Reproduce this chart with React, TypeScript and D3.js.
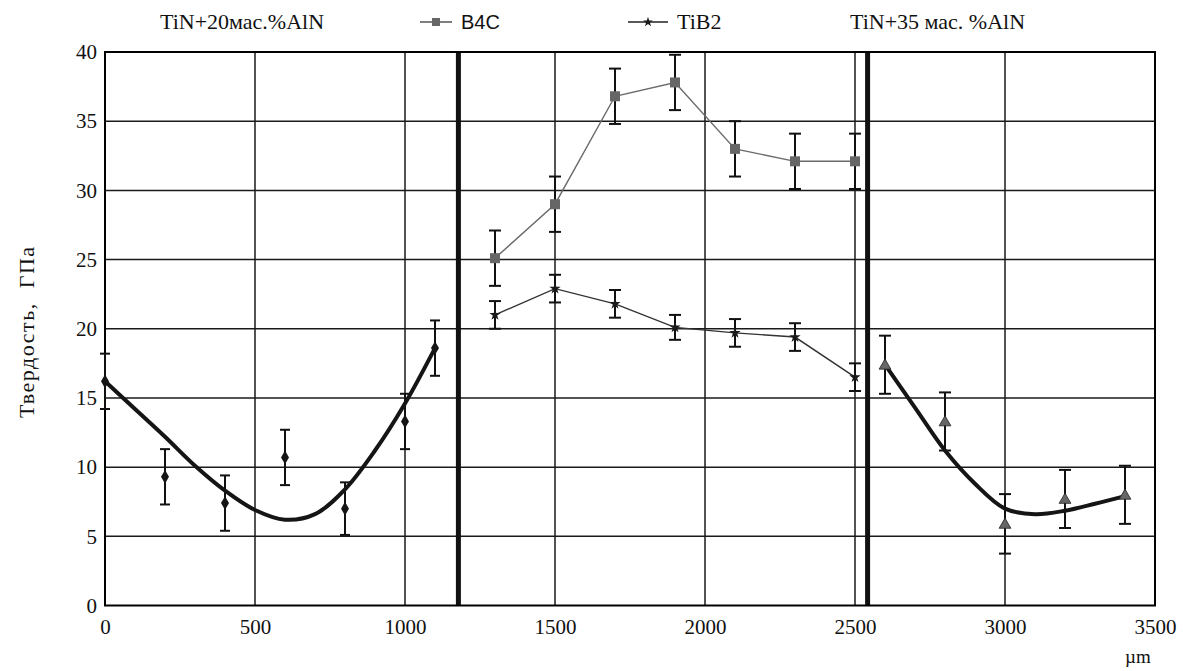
import React, { useEffect, useRef } from "react";
import * as d3 from "d3";

// Dimensions
const W = 1183;
const H = 671;
const plot = { left: 105, right: 1155, top: 52, bottom: 605.5 };

// Axis ticks
const xTicks = [0, 500, 1000, 1500, 2000, 2500, 3000, 3500];
const yTicks = [0, 5, 10, 15, 20, 25, 30, 35, 40];

// Zone borders (thick vertical lines)
const dividers = [1178, 2542];

// TiN+20 mas.% AlN
const leftX = [0, 200, 400, 600, 800, 1000, 1100];
const leftY = [16.2, 9.3, 7.4, 10.7, 7.0, 13.3, 18.6];
const leftErr = [2, 2, 2, 2, 1.9, 2, 2];
const leftFitX = [0, 100, 200, 300, 400, 500, 600, 700, 800, 900, 1000, 1100];
const leftFitY = [16.2, 14.2, 12.2, 10.1, 8.3, 6.9, 6.2, 6.6, 8.4, 11.2, 14.6, 18.6];

// B4C and TiB2
const midX = [1300, 1500, 1700, 1900, 2100, 2300, 2500];
const b4cY = [25.1, 29.0, 36.8, 37.8, 33.0, 32.1, 32.1];
const b4cErr = [2, 2, 2, 2, 2, 2, 2];
const tib2Y = [21.0, 22.9, 21.8, 20.1, 19.7, 19.4, 16.5];
const tib2Err = [1, 1, 1, 0.9, 1, 1, 1];

// TiN+35 mas.% AlN
const rightX = [2600, 2800, 3000, 3200, 3400];
const rightY = [17.4, 13.3, 5.9, 7.7, 8.0];
const rightErr = [2.1, 2.1, 2.15, 2.1, 2.1];
const rightFitX = [2600, 2700, 2800, 2900, 3000, 3100, 3200, 3300, 3400];
const rightFitY = [17.4, 14.3, 11.2, 8.8, 7.0, 6.6, 6.85, 7.35, 7.9];

const serif = "Liberation Serif, Times New Roman, serif";
const sans = "Liberation Sans, Arial, sans-serif";

const App = () => {
  const svgRef = useRef<SVGSVGElement | null>(null);

  useEffect(() => {
    if (!svgRef.current) return;
    const svg = d3.select(svgRef.current);
    svg.selectAll("*").remove();

    const x = d3.scaleLinear().domain([0, 3500]).range([plot.left, plot.right]);
    const y = d3.scaleLinear().domain([0, 40]).range([plot.bottom, plot.top]);

    // Gridlines
    const grid = svg.append("g").attr("stroke", "#1a1a1a").attr("stroke-width", 1.5);
    yTicks.slice(1, -1).forEach((t) => {
      grid.append("line").attr("x1", plot.left).attr("x2", plot.right).attr("y1", y(t)).attr("y2", y(t));
    });
    xTicks.slice(1, -1).forEach((t) => {
      grid.append("line").attr("x1", x(t)).attr("x2", x(t)).attr("y1", plot.top).attr("y2", plot.bottom);
    });

    // Zone dividers
    dividers.forEach((d) => {
      svg.append("line")
        .attr("x1", x(d)).attr("x2", x(d))
        .attr("y1", plot.top).attr("y2", plot.bottom)
        .attr("stroke", "#111").attr("stroke-width", 5);
    });

    // Frame
    svg.append("rect")
      .attr("x", plot.left).attr("y", plot.top)
      .attr("width", plot.right - plot.left).attr("height", plot.bottom - plot.top)
      .attr("fill", "none").attr("stroke", "#000").attr("stroke-width", 2);

    // Axes
    const xAxis = svg.append("g")
      .attr("transform", `translate(0, ${plot.bottom})`)
      .call(d3.axisBottom(x).tickValues(xTicks).tickFormat(d3.format("d")).tickSize(0).tickPadding(14));
    const yAxis = svg.append("g")
      .attr("transform", `translate(${plot.left}, 0)`)
      .call(d3.axisLeft(y).tickValues(yTicks).tickFormat(d3.format("d")).tickSize(0).tickPadding(8));
    [xAxis, yAxis].forEach((a) => {
      a.select(".domain").remove();
      a.attr("font-family", null).attr("font-size", null);
      a.selectAll("text")
        .style("font-family", serif).style("font-size", "21px").attr("fill", "#111");
    });

    // Error bars
    const errorBars = (xs: number[], ys: number[], es: number[], cap: number) => {
      const g = svg.append("g").attr("stroke", "#111").attr("stroke-width", 2);
      xs.forEach((xv, i) => {
        const px = x(xv);
        const top = y(ys[i] + es[i]);
        const bot = y(ys[i] - es[i]);
        g.append("line").attr("x1", px).attr("x2", px).attr("y1", top).attr("y2", bot);
        g.append("line").attr("x1", px - cap).attr("x2", px + cap).attr("y1", top).attr("y2", top);
        g.append("line").attr("x1", px - cap).attr("x2", px + cap).attr("y1", bot).attr("y2", bot);
      });
    };

    const line = d3.line<[number, number]>().x((d) => x(d[0])).y((d) => y(d[1]));
    const smooth = d3.line<[number, number]>().x((d) => x(d[0])).y((d) => y(d[1])).curve(d3.curveCatmullRom.alpha(0.5));
    const pairs = (xs: number[], ys: number[]) => xs.map((v, i) => [v, ys[i]] as [number, number]);

    // Left zone
    errorBars(leftX, leftY, leftErr, 5);
    svg.append("path")
      .attr("d", smooth(pairs(leftFitX, leftFitY)))
      .attr("fill", "none").attr("stroke", "#151515").attr("stroke-width", 4);
    svg.append("g").selectAll("path")
      .data(pairs(leftX, leftY))
      .join("path")
      .attr("transform", (d) => `translate(${x(d[0])}, ${y(d[1])})`)
      .attr("d", d3.symbol(d3.symbolDiamond, 55)())
      .attr("fill", "#151515");

    // B4C
    errorBars(midX, b4cY, b4cErr, 6);
    svg.append("path")
      .attr("d", line(pairs(midX, b4cY)))
      .attr("fill", "none").attr("stroke", "#6a6a6a").attr("stroke-width", 1.4);
    svg.append("g").selectAll("rect")
      .data(pairs(midX, b4cY))
      .join("rect")
      .attr("x", (d) => x(d[0]) - 5).attr("y", (d) => y(d[1]) - 5)
      .attr("width", 10).attr("height", 10)
      .attr("fill", "#666");

    // TiB2
    errorBars(midX, tib2Y, tib2Err, 6);
    svg.append("path")
      .attr("d", line(pairs(midX, tib2Y)))
      .attr("fill", "none").attr("stroke", "#333").attr("stroke-width", 1.4);
    svg.append("g").selectAll("path")
      .data(pairs(midX, tib2Y))
      .join("path")
      .attr("transform", (d) => `translate(${x(d[0])}, ${y(d[1])})`)
      .attr("d", d3.symbol(d3.symbolStar, 40)())
      .attr("fill", "#1a1a1a");

    // Right zone
    errorBars(rightX, rightY, rightErr, 6);
    svg.append("path")
      .attr("d", smooth(pairs(rightFitX, rightFitY)))
      .attr("fill", "none").attr("stroke", "#151515").attr("stroke-width", 4);
    svg.append("g").selectAll("path")
      .data(pairs(rightX, rightY))
      .join("path")
      .attr("transform", (d) => `translate(${x(d[0])}, ${y(d[1]) + 1})`)
      .attr("d", d3.symbol(d3.symbolTriangle, 60)())
      .attr("fill", "#666").attr("stroke", "#222").attr("stroke-width", 0.8);

    // Top labels and legend
    const legend = svg.append("g").attr("fill", "#111");
    const label = (tx: number, ty: number, s: string, family = serif, size = 22) =>
      legend.append("text").attr("x", tx).attr("y", ty)
        .style("font-family", family).style("font-size", `${size}px`).text(s);

    label(160, 29, "TiN+20мас.%AlN");
    label(850, 29, "TiN+35 мас. %AlN");

    legend.append("line").attr("x1", 420).attr("x2", 452).attr("y1", 22).attr("y2", 22)
      .attr("stroke", "#555").attr("stroke-width", 1.5);
    legend.append("rect").attr("x", 432).attr("y", 18).attr("width", 8).attr("height", 8).attr("fill", "#666");
    label(461, 29, "B4C", sans, 20);

    legend.append("line").attr("x1", 628).attr("x2", 668).attr("y1", 22).attr("y2", 22)
      .attr("stroke", "#222").attr("stroke-width", 1.5);
    legend.append("path")
      .attr("transform", "translate(648, 22)")
      .attr("d", d3.symbol(d3.symbolStar, 30)())
      .attr("fill", "#1a1a1a");
    label(677, 29, "TiB2");

    // Axis titles
    svg.append("text")
      .attr("transform", `translate(34, ${(plot.top + plot.bottom) / 2 + 3}) rotate(-90)`)
      .attr("text-anchor", "middle")
      .style("font-family", serif).style("font-size", "22px").style("white-space", "pre")
      .style("letter-spacing", "1.5px")
      .attr("fill", "#111")
      .text("Твердость,  ГПа");
    svg.append("text")
      .attr("x", 1125).attr("y", 663)
      .style("font-family", serif).style("font-size", "19px")
      .attr("fill", "#111")
      .text("µm");
  }, []);

  return (
    <div style={{ position: "absolute", left: 0, top: 0 }}>
      <svg ref={svgRef} width={W} height={H} style={{ display: "block", background: "#fff" }} />
    </div>
  );
};

export default App;
